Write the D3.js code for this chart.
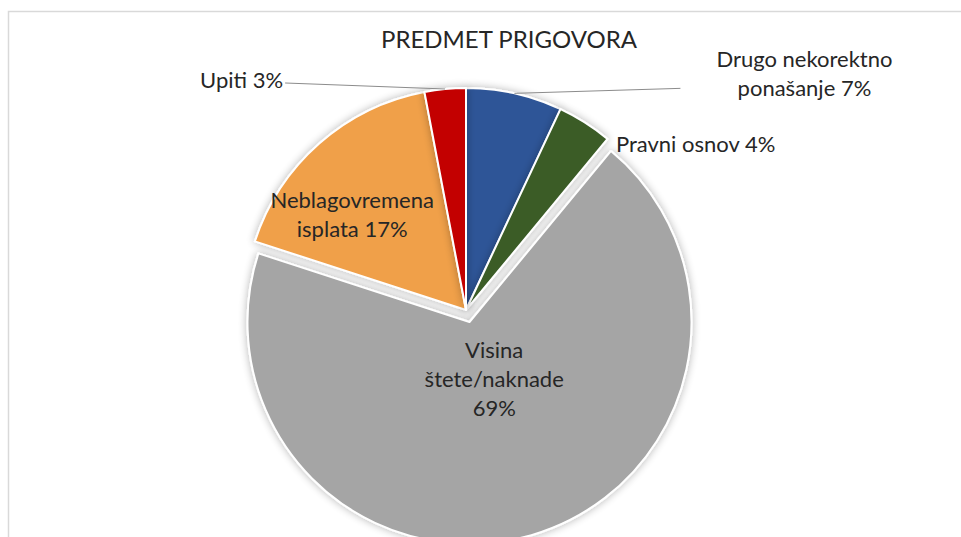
<!DOCTYPE html>
<html>
  <head>
    <meta charset="utf-8">
    <title>PREDMET PRIGOVORA</title>
    <style>
      html, body { margin: 0; padding: 0; background: #fff; }
      svg { display: block; }
      text { font-family: Lato, "Open Sans", sans-serif; fill: #262626; }
    </style>
  </head>
  <body>
    <svg width="961" height="537"></svg>
    <script src="https://cdn.jsdelivr.net/npm/d3@7"></script>
    <script>
      var title = 'PREDMET PRIGOVORA';
      var categories = ['Drugo nekorektno ponašanje', 'Pravni osnov', 'Visina štete/naknade', 'Neblagovremena isplata', 'Upiti'];
      var values = [7, 4, 69, 17, 3];
      var colors = ['#2E5597', '#3A5C27', '#A5A5A5', '#F0A04A', '#C30000'];
      // where each label wraps (word index after which a new line starts)
      var labelBreaks = [[2], [], [1, 2], [1], []];

      var width = 961, height = 537;
      var cx = 466, cy = 310, radius = 222;
      var explode = [0, 0, 12.5, 0, 0];

      // label placement: radius along slice mid angle, then a pixel nudge
      var labelLayout = [
        { r: 1.0, dx: 290, dy: -20, anchor: 'middle', line: [166, -5] },
        { r: 1.0, dx: 31, dy: 21, anchor: 'start' },
        { r: 0.27, dx: 8, dy: -1, anchor: 'middle' },
        { r: 0.68, dx: -14, dy: 17, anchor: 'middle' },
        { r: 1.0, dx: -162, dy: -9, anchor: 'end', line: [-160, -6] }
      ];

      var svg = d3.select('svg');

      var defs = svg.append('defs');
      var shadow = defs.append('filter').attr('id', 'shadow')
        .attr('x', '-20%').attr('y', '-20%').attr('width', '140%').attr('height', '140%');
      shadow.append('feGaussianBlur').attr('in', 'SourceAlpha').attr('stdDeviation', 4);
      shadow.append('feOffset').attr('dx', 0).attr('dy', 0).attr('result', 'blur');
      shadow.append('feComponentTransfer').append('feFuncA').attr('type', 'linear').attr('slope', 0.3);
      var merge = shadow.append('feMerge');
      merge.append('feMergeNode');
      merge.append('feMergeNode').attr('in', 'SourceGraphic');

      // chart area border (only top and left are visible)
      svg.append('path')
        .attr('d', 'M8.5,' + height + 'V11.5H' + width)
        .attr('fill', 'none')
        .attr('stroke', '#d9d9d9')
        .attr('stroke-width', 1.5);

      svg.append('text')
        .attr('x', 509)
        .attr('y', 38)
        .attr('text-anchor', 'middle')
        .attr('dominant-baseline', 'central')
        .style('font-size', '24px')
        .text(title);

      var data = categories.map(function(c, i) { return { name: c, value: values[i], i: i }; });
      var pie = d3.pie().sort(null).value(function(d) { return d.value; });
      var arcs = pie(data);
      var arc = d3.arc().innerRadius(0).outerRadius(radius);

      function offset(d) {
        var a = (d.startAngle + d.endAngle) / 2;
        var e = explode[d.data.i];
        return [Math.sin(a) * e, -Math.cos(a) * e];
      }

      var g = svg.append('g').attr('transform', 'translate(' + cx + ',' + cy + ')');

      g.selectAll('path.slice')
        .data(arcs)
        .enter()
        .append('path')
          .attr('class', 'slice')
          .attr('d', arc)
          .attr('transform', function(d) { var o = offset(d); return 'translate(' + o[0] + ',' + o[1] + ')'; })
          .attr('fill', function(d) { return colors[d.data.i]; })
          .attr('stroke', '#fff')
          .attr('stroke-width', 2)
          .attr('stroke-linejoin', 'round')
          .attr('filter', 'url(#shadow)');

      function anchorPoint(d) {
        var a = (d.startAngle + d.endAngle) / 2;
        var L = labelLayout[d.data.i];
        var o = offset(d);
        var rr = radius * L.r;
        return [o[0] + Math.sin(a) * rr, o[1] - Math.cos(a) * rr];
      }

      // leader lines
      g.selectAll('line.leader')
        .data(arcs.filter(function(d) { return labelLayout[d.data.i].line; }))
        .enter()
        .append('line')
          .attr('class', 'leader')
          .attr('x1', function(d) { return anchorPoint(d)[0]; })
          .attr('y1', function(d) { return anchorPoint(d)[1]; })
          .attr('x2', function(d) { return anchorPoint(d)[0] + labelLayout[d.data.i].line[0]; })
          .attr('y2', function(d) { return anchorPoint(d)[1] + labelLayout[d.data.i].line[1]; })
          .attr('stroke', '#8c8c8c')
          .attr('stroke-width', 1);

      function splitLabel(d) {
        var words = (d.data.name + ' ' + d.data.value + '%').split(' ');
        var breaks = labelBreaks[d.data.i];
        var lines = [], cur = [];
        words.forEach(function(w, k) {
          cur.push(w);
          if (breaks.indexOf(k + 1) >= 0) { lines.push(cur.join(' ')); cur = []; }
        });
        if (cur.length) lines.push(cur.join(' '));
        return lines;
      }

      var lineH = 29;
      var labels = g.selectAll('text.label')
        .data(arcs)
        .enter()
        .append('text')
          .attr('class', 'label')
          .attr('text-anchor', function(d) { return labelLayout[d.data.i].anchor; })
          .style('font-size', '22px')
          .attr('transform', function(d) {
            var p = anchorPoint(d), L = labelLayout[d.data.i];
            return 'translate(' + (p[0] + L.dx) + ',' + (p[1] + L.dy) + ')';
          });

      labels.each(function(d) {
        var lines = splitLabel(d);
        var t = d3.select(this);
        lines.forEach(function(s, k) {
          t.append('tspan')
            .attr('x', 0)
            .attr('y', (k - (lines.length - 1) / 2) * lineH)
            .attr('dominant-baseline', 'central')
            .text(s);
        });
      });
    </script>
  </body>
</html>
